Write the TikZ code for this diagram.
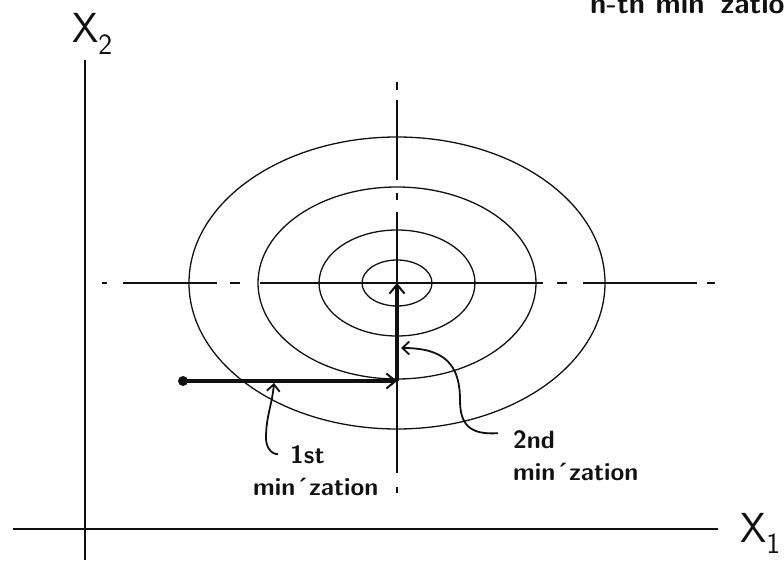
\documentclass[tikz,border=0pt]{standalone}
\usetikzlibrary{arrows.meta}
\definecolor{sketchInk}{HTML}{111111}
\tikzset{
  every picture/.style={font=\sffamily, text=sketchInk},
  contour line/.style={draw=sketchInk, line width=1.3pt},
  center line/.style={draw=sketchInk, line width=1.8pt},
  axis line/.style={draw=sketchInk, line width=2.2pt},
  step arrow/.style={-{Straight Barb[length=9pt,width=15pt,line width=2pt]},
    draw=sketchInk, line width=4pt},
  note arrow/.style={-{Straight Barb[length=7pt,width=13pt]},
    draw=sketchInk, line width=1.8pt},
  note text/.style={font=\sffamily\bfseries\fontsize{25}{28}\selectfont,
    inner sep=0pt, anchor=base west},
  axis label/.style={font=\sffamily\fontsize{42}{44}\selectfont,
    inner sep=0pt, anchor=base west}
}

\begin{document}
\begin{tikzpicture}[x=1pt,y=1pt]
  \useasboundingbox (0,0) rectangle (784,560);
  \clip (0,0) rectangle (784,560);
  % axes
  \draw[axis line] (85,0) -- (85,500);
  \draw[axis line] (13,31) -- (718,31);
  \node[axis label] (xtwo) at (72,517) {X\textsubscript{2}};
  \node[axis label] (xone) at (740,18) {X\textsubscript{1}};
  % contours round the minimum
  \coordinate (ctr) at (397,277);
  \foreach \rx/\ry in {35/23,78/53,139/96,208/146}
    \draw[contour line] (ctr) ellipse[x radius=\rx, y radius=\ry];
  % dash-dot center lines
  \foreach \p/\q in {102/107,123/217,230/240,260/543,557/567,583/697,707/715}
    \draw[center line] (\p,277) -- (\q,277);
  \foreach \p/\q in {478/470,460/380,367/360,348/87,73/67}
    \draw[center line] (397,\p) -- (397,\q);
  % the two steps
  \coordinate (start) at (183,179);
  \coordinate (corner) at (397,179);
  \fill[sketchInk] (start) circle[radius=5];
  \draw[step arrow] (start) -- (corner);
  \draw[step arrow] (corner) -- (ctr);
  % notes
  \node[note text] (firstA) at (290,97) {1st};
  \node[note text] (firstB) at (253,65) {min\textasciiacute{}zation};
  \node[note text] (secondA) at (513,112) {2nd};
  \node[note text] (secondB) at (513,80) {min\textasciiacute{}zation};
  \node[note text, font=\sffamily\bfseries\fontsize{29}{32}\selectfont]
    (nth) at (590,546) {n-th min\textasciiacute{}zation};
  \coordinate (firstTip) at (274,177);
  \coordinate (secondTip) at (401,212);
  \draw[note arrow] ([xshift=-12pt]firstA.west) to[out=180,in=-90] (266,122)
    to[out=90,in=-95] (firstTip);
  \draw[note arrow] ([shift={(-15pt,6pt)}]secondA.west)
    .. controls (470,125) and (460,135) .. (460,160)
    .. controls (460,195) and (445,212) .. (secondTip);
\end{tikzpicture}
\end{document}
